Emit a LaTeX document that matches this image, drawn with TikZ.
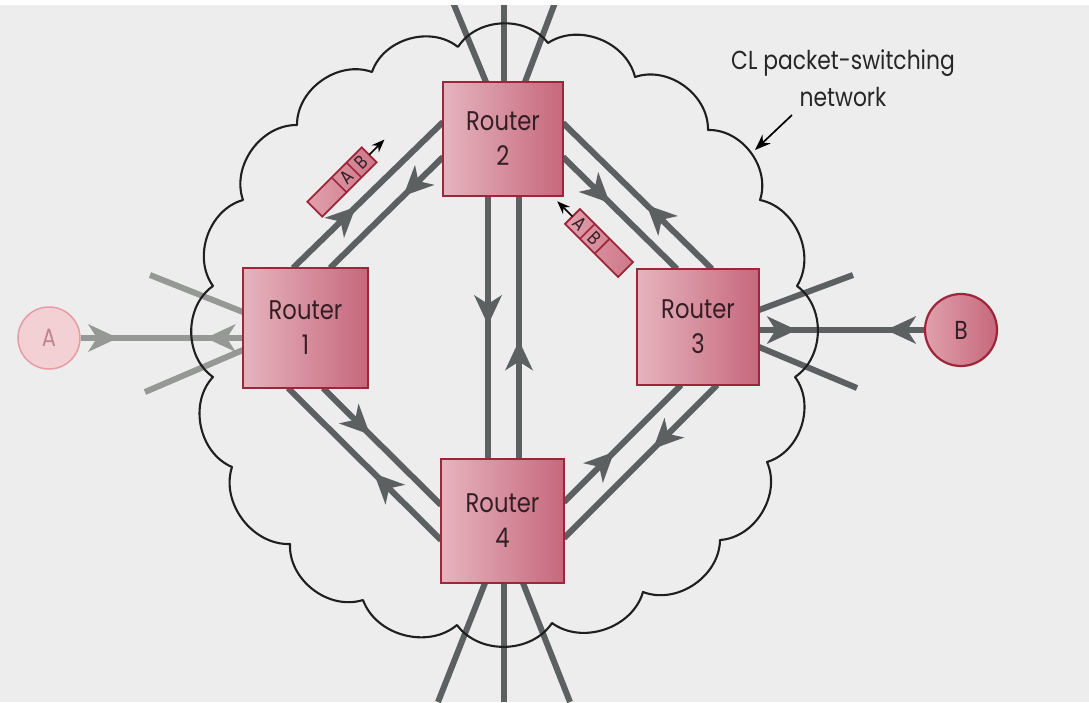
\documentclass[tikz,border=0pt]{standalone}
\usepackage{fontspec}
\setmainfont{Poppins}
\newfontfamily\figfont[FakeStretch=0.84]{Poppins}
\usetikzlibrary{arrows.meta,decorations.markings,calc}

\definecolor{paper}{RGB}{236,237,236}
\definecolor{wire}{RGB}{92,96,96}
\definecolor{wirepale}{RGB}{150,152,150}
\definecolor{boxedge}{RGB}{158,38,58}
\definecolor{boxlight}{RGB}{230,180,190}
\definecolor{boxdark}{RGB}{198,104,124}
\definecolor{inktext}{RGB}{52,30,36}
\definecolor{hostpale}{RGB}{243,208,212}
\definecolor{hostpaleedge}{RGB}{230,156,165}
\definecolor{hostpaletext}{RGB}{190,132,140}
\definecolor{pktlight}{RGB}{224,160,172}
\definecolor{pktdark}{RGB}{206,120,138}

\pgfdeclarelayer{under}
\pgfsetlayers{under,main}

\tikzset{
  router/.style={rectangle, draw=boxedge, line width=2pt, left color=boxlight,
    right color=boxdark, inner sep=0pt, outer sep=0pt, align=center,
    text=inktext, font=\figfont\fontsize{27}{35}\selectfont},
  hosta/.style={circle, draw=hostpaleedge, line width=1.5pt, fill=hostpale,
    minimum size=62pt, inner sep=0pt, text=hostpaletext,
    font=\figfont\fontsize{25}{25}\selectfont},
  hostb/.style={circle, draw=boxedge, line width=2.2pt, left color=pktlight,
    right color=boxdark, minimum size=72pt, inner sep=0pt, text=inktext,
    font=\figfont\fontsize{26}{26}\selectfont},
  link/.style={draw=wire, line width=6pt},
  palelink/.style={draw=wirepale, line width=6pt},
  % barbed arrowhead placed part way along a line: position, colour
  midarr/.style 2 args={postaction={decorate}, decoration={markings,
    mark=at position #1 with {\fill[#2] (8pt,0pt) -- (-22pt,14pt) -- (-13pt,0pt)
      -- (-22pt,-14pt) -- cycle;}}},
  cloudline/.style={draw=black!88, line width=2.1pt, line join=round},
  packet/.style={draw=boxedge, line width=1.8pt, left color=pktlight, right color=pktdark},
  packetrule/.style={draw=boxedge, line width=1.6pt},
  pktletter/.style={inner sep=0pt, text=inktext, font=\figfont\fontsize{19}{19}\selectfont},
  pktarrow/.style={draw=black, line width=1.5pt, -{Stealth[length=13pt,width=10pt]}},
  nettitle/.style={align=center, inner sep=0pt, text=black!85,
    font=\figfont\fontsize{26}{37}\selectfont},
  pointer/.style={draw=black, line width=1.7pt, -{Stealth[length=16pt,width=12pt]}}
}

\begin{document}
\begin{tikzpicture}[x=1pt,y=-1pt]
  \begin{pgfonlayer}{under}
    \fill[paper] (0,0) rectangle (1089,702);
  \end{pgfonlayer}
  \useasboundingbox (0,0) rectangle (1089,702);

  % routers and hosts
  \node[router, minimum width=125pt, minimum height=120pt] (r1) at (305.5,328) {Router\\1};
  \node[router, minimum width=120pt, minimum height=114pt] (r2) at (503,139) {Router\\2};
  \node[router, minimum width=122pt, minimum height=116pt] (r3) at (698,327) {Router\\3};
  \node[router, minimum width=123pt, minimum height=124pt] (r4) at (502.5,521) {Router\\4};
  \node[hosta] (a) at (49,338) {A};
  \node[hostb] (b) at (961,330) {B};

  % free ends of the lines leaving the network
  \coordinate (t1) at (452,0);   \coordinate (t2) at (504,0);   \coordinate (t3) at (556,0);
  \coordinate (d1) at (438,702); \coordinate (d2) at (504,702); \coordinate (d3) at (570,702);
  \coordinate (w1) at (150,275); \coordinate (w2) at (145,392);
  \coordinate (e1) at (853,275); \coordinate (e2) at (857,388);

  \begin{pgfonlayer}{under}
  % links between routers, one line per direction
  \draw[link, midarr={0.38}{wire}] ($(r1.north west)+(50,0)$) -- ($(r2.north west)+(0,40)$);
  \draw[link, midarr={0.30}{wire}] ($(r2.north west)+(0,75)$) -- ($(r1.north west)+(87,0)$);
  \draw[link, midarr={0.40}{wire}] ($(r3.north west)+(75,0)$) -- ($(r2.north east)+(0,41)$);
  \draw[link, midarr={0.36}{wire}] ($(r2.north east)+(0,75)$) -- ($(r3.north west)+(40,0)$);
  \draw[link, midarr={0.46}{wire}] ($(r2.south west)+(45,0)$) -- ($(r4.north west)+(47,0)$);
  \draw[link, midarr={0.42}{wire}] ($(r4.north west)+(78,0)$) -- ($(r2.south west)+(76,0)$);
  \draw[link, midarr={0.35}{wire}] ($(r1.south west)+(80,0)$) -- ($(r4.north west)+(0,46)$);
  \draw[link, midarr={0.40}{wire}] ($(r4.north west)+(0,81)$) -- ($(r1.south west)+(45,0)$);
  \draw[link, midarr={0.38}{wire}] ($(r4.north east)+(0,43)$) -- ($(r3.south west)+(44,0)$);
  \draw[link, midarr={0.38}{wire}] ($(r3.south west)+(80,0)$) -- ($(r4.north east)+(0,79)$);

  % hosts
  \draw[palelink, midarr={0.18}{wirepale}] (a) -- (a -| r1.west);
  \draw[palelink, midarr={0.18}{wirepale}] (a -| r1.west) -- (a);
  \draw[link, midarr={0.18}{wire}] (b -| r3.east) -- (b);
  \draw[link, midarr={0.18}{wire}] (b) -- (b -| r3.east);

  % lines to the rest of the network
  \draw[link] ($(r2.north west)+(43,0)$) -- (t1);
  \draw[link] ($(r2.north west)+(61,0)$) -- (t2);
  \draw[link] ($(r2.north west)+(82,0)$) -- (t3);
  \draw[link] ($(r4.south west)+(44,0)$) -- (d1);
  \draw[link] ($(r4.south west)+(63,0)$) -- (d2);
  \draw[link] ($(r4.south west)+(82,0)$) -- (d3);
  \draw[palelink] ($(r1.north west)+(0,44)$) -- (w1);
  \draw[palelink] ($(r1.north west)+(0,82)$) -- (w2);
  \draw[link] ($(r3.north east)+(0,41)$) -- (e1);
  \draw[link] ($(r3.north east)+(0,78)$) -- (e2);

  % the network cloud
  \draw[cloudline] (458,47) to[bend left=55] (548,43) to[bend left=55] (635,77)
    to[bend left=55] (708,130) to[bend left=55] (760,200) to[bend left=55] (797,286)
    to[bend left=55] (795,377) to[bend left=55] (767,462) to[bend left=55] (720,540)
    to[bend left=55] (643,592) to[bend left=55] (552,623) to[bend left=55] (457,625)
    to[bend left=55] (363,600) to[bend left=55] (290,544) to[bend left=55] (232,467)
    to[bend left=55] (213,377) to[bend left=55] (213,286) to[bend left=55] (243,200)
    to[bend left=55] (297,125) to[bend left=55] (372,72) to[bend left=55] (458,47);
  \end{pgfonlayer}

  % packet travelling from router 1 to router 2
  \begin{scope}[shift={(342,182)}, rotate=45]
    \draw[packet] (-38.5,-10.5) rectangle (38.5,10.5);
    \draw[packetrule] (-4,-10.5) -- (-4,10.5) (17,-10.5) -- (17,10.5);
    \node[pktletter, rotate=45] (p1a) at (6.5,0) {A};
    \node[pktletter, rotate=45] (p1b) at (27.75,0) {B};
    \coordinate (p1end) at (38.5,0);
    \coordinate (p1tip) at (60,0);
  \end{scope}
  \draw[pktarrow] (p1end) -- (p1tip);

  % packet travelling from router 3 to router 2
  \begin{scope}[shift={(599,243)}, rotate=-45]
    \draw[packet] (-37.5,-10.5) rectangle (37.5,10.5);
    \draw[packetrule] (-16.5,-10.5) -- (-16.5,10.5) (4.5,-10.5) -- (4.5,10.5);
    \node[pktletter, rotate=-45] (p2a) at (-27,0) {A};
    \node[pktletter, rotate=-45] (p2b) at (-6,0) {B};
    \coordinate (p2end) at (-37.5,0);
    \coordinate (p2tip) at (-59,0);
  \end{scope}
  \draw[pktarrow] (p2end) -- (p2tip);

  % caption of the cloud
  \node[nettitle] (title) at (843,78) {CL packet-switching\\network};
  \coordinate (pointtail) at (792,115);
  \coordinate (pointhead) at (755,150);
  \draw[pointer] (pointtail) -- (pointhead);

  % white edge along the top
  \fill[white] (0,0) rectangle (1089,5);
\end{tikzpicture}
\end{document}
